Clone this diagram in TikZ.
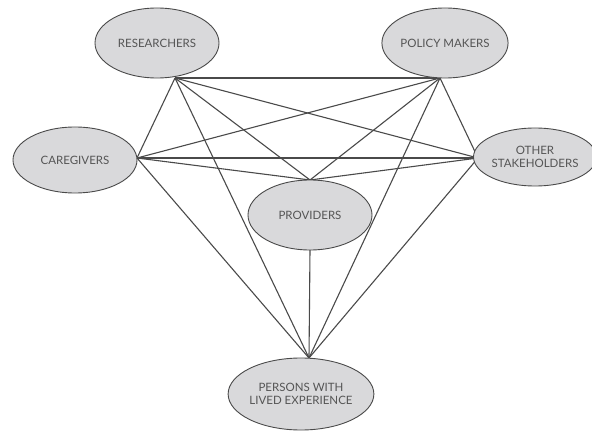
\documentclass[tikz,border=0pt]{standalone}
\usepackage{fontspec}
\setmainfont{Lato}
\usetikzlibrary{shapes.geometric}
\definecolor{fillgray}{HTML}{D9D9DB}
\definecolor{edgegray}{HTML}{4A4A4A}
\definecolor{txtgray}{HTML}{555555}
\tikzset{
  party/.style={ellipse, draw=edgegray, line width=0.9pt, fill=fillgray, text=txtgray,
    font=\fontsize{11.5}{13}\selectfont, align=center, inner sep=0pt},
  link/.style={draw=edgegray, line width=1.1pt}
}
\begin{document}
\begin{tikzpicture}[x=1pt,y=-1pt]
\useasboundingbox (0,0) rectangle (592,433);
% convergence points
\coordinate (rP) at (175,78);
\coordinate (pP) at (440,78);
\coordinate (cP) at (137,158);
\coordinate (oP) at (478,158);
\coordinate (vT) at (310,180);
\coordinate (vB) at (310,250);
\coordinate (lP) at (309,358);
% links
\draw[link] (rP) -- (pP);
\draw[link] (rP) -- (cP);
\draw[link] (rP) -- (oP);
\draw[link] (rP) -- (vT);
\draw[link] (rP) -- (lP);
\draw[link] (pP) -- (cP);
\draw[link] (pP) -- (oP);
\draw[link] (pP) -- (vT);
\draw[link] (pP) -- (lP);
\draw[link] (cP) -- (oP);
\draw[link] (cP) -- (vT);
\draw[link] (cP) -- (lP);
\draw[link] (oP) -- (vT);
\draw[link] (oP) -- (lP);
\draw[link] (vB) -- (lP);
% nodes
\node[party, minimum width=124pt, minimum height=70pt] (res) at (157,43) {RESEARCHERS};
\node[party, minimum width=124pt, minimum height=70pt] (pol) at (445,43) {POLICY MAKERS};
\node[party, minimum width=124pt, minimum height=66pt] (car) at (75,160) {CAREGIVERS};
\node[party, minimum width=112pt, minimum height=58pt] (oth) at (535,157) {OTHER\\STAKEHOLDERS};
\node[party, minimum width=124pt, minimum height=70pt] (pro) at (310,215) {PROVIDERS};
\node[party, minimum width=138pt, minimum height=72pt] (per) at (301,394) {PERSONS WITH\\LIVED EXPERIENCE};
\end{tikzpicture}
\end{document}
